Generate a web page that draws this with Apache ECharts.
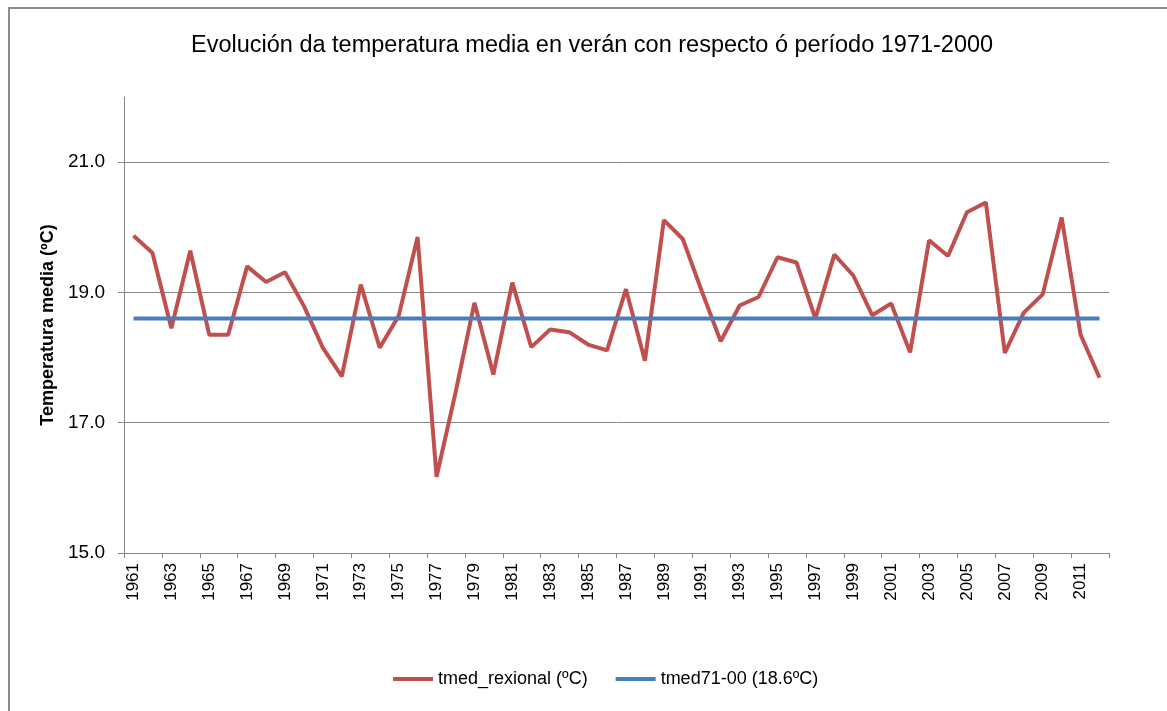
<!DOCTYPE html>
<html>
<head>
<meta charset="utf-8">
<title>Evolución da temperatura media en verán</title>
<script src="https://cdn.jsdelivr.net/npm/echarts@6/dist/echarts.min.js"></script>
<style>
  html, body { margin: 0; padding: 0; background: #fff; }
  .frame {
    position: absolute; left: 8px; top: 7px; width: 1200px; height: 760px;
    border-top: 2px solid #8c8c8c; border-left: 2px solid #8c8c8c;
    box-sizing: border-box; pointer-events: none;
  }
  #chart { position: absolute; left: 0; top: 0; width: 1167px; height: 711px; }
</style>
</head>
<body>
<div class="frame"></div>
<div id="chart"></div>
<script>
// años 1961-2012
const years = [
  '1961','1962','1963','1964','1965','1966','1967','1968','1969','1970',
  '1971','1972','1973','1974','1975','1976','1977','1978','1979','1980',
  '1981','1982','1983','1984','1985','1986','1987','1988','1989','1990',
  '1991','1992','1993','1994','1995','1996','1997','1998','1999','2000',
  '2001','2002','2003','2004','2005','2006','2007','2008','2009','2010',
  '2011','2012'
]

// temperatura media rexional no verán (ºC)
const tmedRexional = [
  19.87, 19.61, 18.45, 19.64, 18.35, 18.35, 19.40, 19.16, 19.31, 18.79,
  18.15, 17.71, 19.12, 18.15, 18.64, 19.85, 16.17, 17.46, 18.84, 17.74,
  19.15, 18.16, 18.43, 18.39, 18.20, 18.11, 19.05, 17.95, 20.11, 19.82,
  19.02, 18.25, 18.80, 18.93, 19.54, 19.46, 18.60, 19.58, 19.26, 18.65,
  18.83, 18.08, 19.80, 19.56, 20.23, 20.38, 18.07, 18.69, 18.97, 20.15,
  18.35, 17.69
]

// media do período 1971-2000
const tmed7100 = [
  18.6, 18.6, 18.6, 18.6, 18.6, 18.6, 18.6, 18.6, 18.6, 18.6,
  18.6, 18.6, 18.6, 18.6, 18.6, 18.6, 18.6, 18.6, 18.6, 18.6,
  18.6, 18.6, 18.6, 18.6, 18.6, 18.6, 18.6, 18.6, 18.6, 18.6,
  18.6, 18.6, 18.6, 18.6, 18.6, 18.6, 18.6, 18.6, 18.6, 18.6,
  18.6, 18.6, 18.6, 18.6, 18.6, 18.6, 18.6, 18.6, 18.6, 18.6,
  18.6, 18.6
]

const seriesNames = ['tmed_rexional (ºC)', 'tmed71-00 (18.6ºC)']

const font = 'Liberation Sans, Arial, sans-serif'
const gridGrey = '#868686'

let myChart = echarts.init(document.getElementById('chart'))

myChart.setOption({
  animation: false,
  textStyle: { fontFamily: font },
  title: {
    text: 'Evolución da temperatura media en verán con respecto ó período 1971-2000',
    left: 186,
    top: 29,
    textStyle: { fontSize: 23.5, fontWeight: 'normal', color: '#000', fontFamily: font }
  },
  legend: {
    data: seriesNames,
    left: 388,
    top: 665,
    icon: 'rect',
    itemWidth: 40,
    itemHeight: 4,
    itemGap: 28,
    textStyle: { fontSize: 18, color: '#000', fontFamily: font }
  },
  grid: {
    left: 124,
    right: 58,
    top: 97,
    bottom: 158,
    containLabel: false
  },
  xAxis: {
    type: 'category',
    data: years,
    boundaryGap: true,
    axisLine: { lineStyle: { color: gridGrey, width: 1 } },
    axisTick: { show: true, length: 5, lineStyle: { color: gridGrey } },
    axisLabel: {
      interval: 1,
      rotate: 90,
      margin: 10,
      fontSize: 17,
      color: '#000',
      fontFamily: font
    },
    splitLine: { show: false }
  },
  yAxis: {
    type: 'value',
    min: 15,
    max: 22,
    interval: 2,
    name: 'Temperatura media (ºC)',
    nameLocation: 'middle',
    nameGap: 67,
    nameTextStyle: { fontSize: 18, fontWeight: 'bold', color: '#000', fontFamily: font },
    axisLine: { show: true, lineStyle: { color: gridGrey, width: 1 } },
    axisTick: { show: true, length: 6, lineStyle: { color: gridGrey } },
    axisLabel: {
      showMaxLabel: false,
      margin: 19,
      fontSize: 19,
      color: '#000',
      fontFamily: font,
      formatter: function (v) { return v.toFixed(1) }
    },
    splitLine: {
      show: true,
      showMinLine: false,
      showMaxLine: false,
      lineStyle: { color: gridGrey, width: 1 }
    }
  },
  series: [
    {
      name: seriesNames[0],
      type: 'line',
      data: tmedRexional,
      symbol: 'none',
      itemStyle: { color: '#C0504D' },
      lineStyle: { color: '#C0504D', width: 4 }
    },
    {
      name: seriesNames[1],
      type: 'line',
      data: tmed7100,
      symbol: 'none',
      itemStyle: { color: '#4A7EBB' },
      lineStyle: { color: '#4A7EBB', width: 4 }
    }
  ]
})
</script>
</body>
</html>
